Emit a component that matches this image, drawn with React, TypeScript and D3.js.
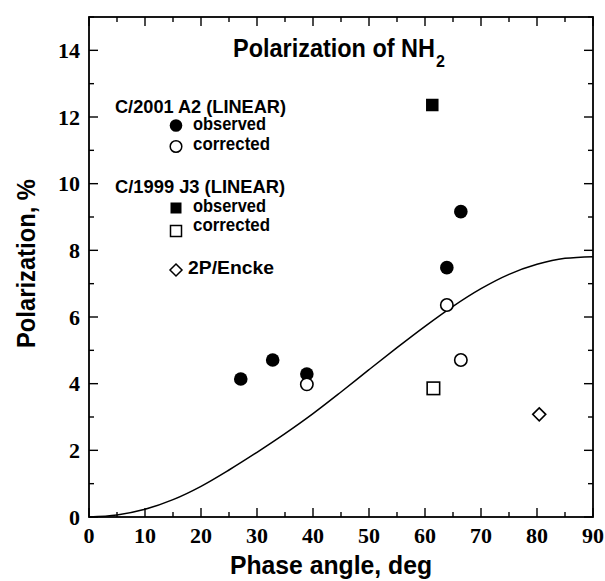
import React from "react";
import * as d3 from "d3";

const W = 605, H = 581;
const M = { left: 89, right: 593, top: 17, bottom: 517 };

const xTicks = [0, 10, 20, 30, 40, 50, 60, 70, 80, 90];
const yTicks = [0, 2, 4, 6, 8, 10, 12, 14];

// C/2001 A2 (LINEAR)
const a2ObsX = [27.1, 32.8, 38.9, 63.9, 66.4];
const a2ObsY = [4.14, 4.71, 4.29, 7.48, 9.16];
const a2CorX = [38.9, 63.9, 66.4];
const a2CorY = [3.98, 6.36, 4.71];
// C/1999 J3 (LINEAR)
const j3ObsX = [61.3];
const j3ObsY = [12.36];
const j3CorX = [61.5];
const j3CorY = [3.86];
// 2P/Encke
const enckeX = [80.4];
const enckeY = [3.08];

// model curve
const curveX = [0, 5, 10, 15, 20, 25, 30, 35, 40, 45, 50, 55, 60, 65, 70, 75, 80, 85, 90];
const curveY = [0, 0.06, 0.23, 0.52, 0.92, 1.41, 1.94, 2.5, 3.1, 3.75, 4.42, 5.08, 5.72, 6.32, 6.85, 7.28, 7.58, 7.76, 7.81];

const SANS = "'Liberation Sans', Arial, Helvetica, sans-serif";
const SERIF = "'Liberation Serif', 'Times New Roman', serif";

export default function App() {
  const x = d3.scaleLinear().domain([0, 90]).range([M.left, M.right]);
  const y = d3.scaleLinear().domain([0, 15]).range([M.bottom, M.top]);

  const line = d3
    .line<number>()
    .x((_, i) => x(curveX[i]))
    .y((d) => y(d))
    .curve(d3.curveMonotoneX);

  const xMinor = d3.range(0, 91, 5);
  const yMinor = d3.range(0, 16, 1);

  const sq = 12.5;
  const legX = 176;

  const diamond = (cx: number, cy: number, r: number) =>
    `M${cx},${cy - r}L${cx + r},${cy}L${cx},${cy + r}L${cx - r},${cy}Z`;

  return (
    <svg width={W} height={H} style={{ position: "absolute", left: 0, top: 0, background: "#fff" }}>
      <rect x={0} y={0} width={W} height={H} fill="#fff" />
      {xMinor.map((v) => {
        const major = v % 10 === 0;
        const len = major ? 9 : 5;
        return (
          <g key={"xt" + v} stroke="#000" strokeWidth={1.4}>
            <line x1={x(v)} x2={x(v)} y1={M.bottom} y2={M.bottom - len} />
            <line x1={x(v)} x2={x(v)} y1={M.top} y2={M.top + len} />
          </g>
        );
      })}
      {yMinor.map((v) => {
        const major = v % 2 === 0;
        const len = major ? 9 : 5;
        return (
          <g key={"yt" + v} stroke="#000" strokeWidth={1.4}>
            <line x1={M.left} x2={M.left + len} y1={y(v)} y2={y(v)} />
            <line x1={M.right} x2={M.right - len} y1={y(v)} y2={y(v)} />
          </g>
        );
      })}
      <rect x={M.left} y={M.top} width={M.right - M.left} height={M.bottom - M.top} fill="none" stroke="#000" strokeWidth={1.8} />

      {xTicks.map((v) => (
        <text key={"xl" + v} x={x(v)} y={543} textAnchor="middle" fontFamily={SERIF} fontWeight="bold" fontSize={22}>
          {v}
        </text>
      ))}
      {yTicks.map((v) => (
        <text key={"yl" + v} x={80} y={y(v) + 7.5} textAnchor="end" fontFamily={SERIF} fontWeight="bold" fontSize={22}>
          {v}
        </text>
      ))}

      <text x={230} y={574} fontFamily={SANS} fontWeight="bold" fontSize={25} textLength={202} lengthAdjust="spacingAndGlyphs">
        Phase angle, deg
      </text>
      <text
        transform="translate(35,348) rotate(-90)"
        x={0}
        y={0}
        fontFamily={SANS}
        fontWeight="bold"
        fontSize={26}
        textLength={169}
        lengthAdjust="spacingAndGlyphs"
      >
        Polarization, %
      </text>

      <text x={233} y={57} fontFamily={SANS} fontWeight="bold" fontSize={25} textLength={202} lengthAdjust="spacingAndGlyphs">
        Polarization of NH
      </text>
      <text x={436} y={67} fontFamily={SANS} fontWeight="bold" fontSize={16}>
        2
      </text>

      <path d={line(curveY) || ""} fill="none" stroke="#000" strokeWidth={1.5} />

      {a2ObsX.map((v, i) => (
        <circle key={"ao" + i} cx={x(v)} cy={y(a2ObsY[i])} r={6.8} fill="#000" />
      ))}
      {j3ObsX.map((v, i) => (
        <rect key={"jo" + i} x={x(v) - sq / 2} y={y(j3ObsY[i]) - sq / 2} width={sq} height={sq} fill="#000" />
      ))}
      {a2CorX.map((v, i) => (
        <circle key={"ac" + i} cx={x(v)} cy={y(a2CorY[i])} r={6.2} fill="#fff" stroke="#000" strokeWidth={1.6} />
      ))}
      {j3CorX.map((v, i) => (
        <rect key={"jc" + i} x={x(v) - sq / 2} y={y(j3CorY[i]) - sq / 2} width={sq} height={sq} fill="#fff" stroke="#000" strokeWidth={1.6} />
      ))}
      {enckeX.map((v, i) => (
        <path key={"en" + i} d={diamond(x(v), y(enckeY[i]), 6.5)} fill="#fff" stroke="#000" strokeWidth={1.6} />
      ))}

      <g fontFamily={SANS} fontWeight="bold" fontSize={18.5}>
        <text x={115} y={113} textLength={171} lengthAdjust="spacingAndGlyphs">C/2001 A2 (LINEAR)</text>
        <circle cx={legX} cy={125.5} r={6.3} fill="#000" />
        <text x={193} y={130} textLength={73} lengthAdjust="spacingAndGlyphs">observed</text>
        <circle cx={legX} cy={146.5} r={5.8} fill="#fff" stroke="#000" strokeWidth={1.5} />
        <text x={193} y={150} textLength={77} lengthAdjust="spacingAndGlyphs">corrected</text>

        <text x={115} y={193} textLength={170} lengthAdjust="spacingAndGlyphs">C/1999 J3 (LINEAR)</text>
        <rect x={legX - 5.5} y={208 - 5.5} width={11} height={11} fill="#000" />
        <text x={193} y={212} textLength={73} lengthAdjust="spacingAndGlyphs">observed</text>
        <rect x={legX - 5.5} y={231 - 5.5} width={11} height={11} fill="#fff" stroke="#000" strokeWidth={1.5} />
        <text x={193} y={231} textLength={77} lengthAdjust="spacingAndGlyphs">corrected</text>

        <path d={diamond(legX, 270, 6)} fill="#fff" stroke="#000" strokeWidth={1.5} />
        <text x={188} y={274} textLength={86} lengthAdjust="spacingAndGlyphs">2P/Encke</text>
      </g>
    </svg>
  );
}
